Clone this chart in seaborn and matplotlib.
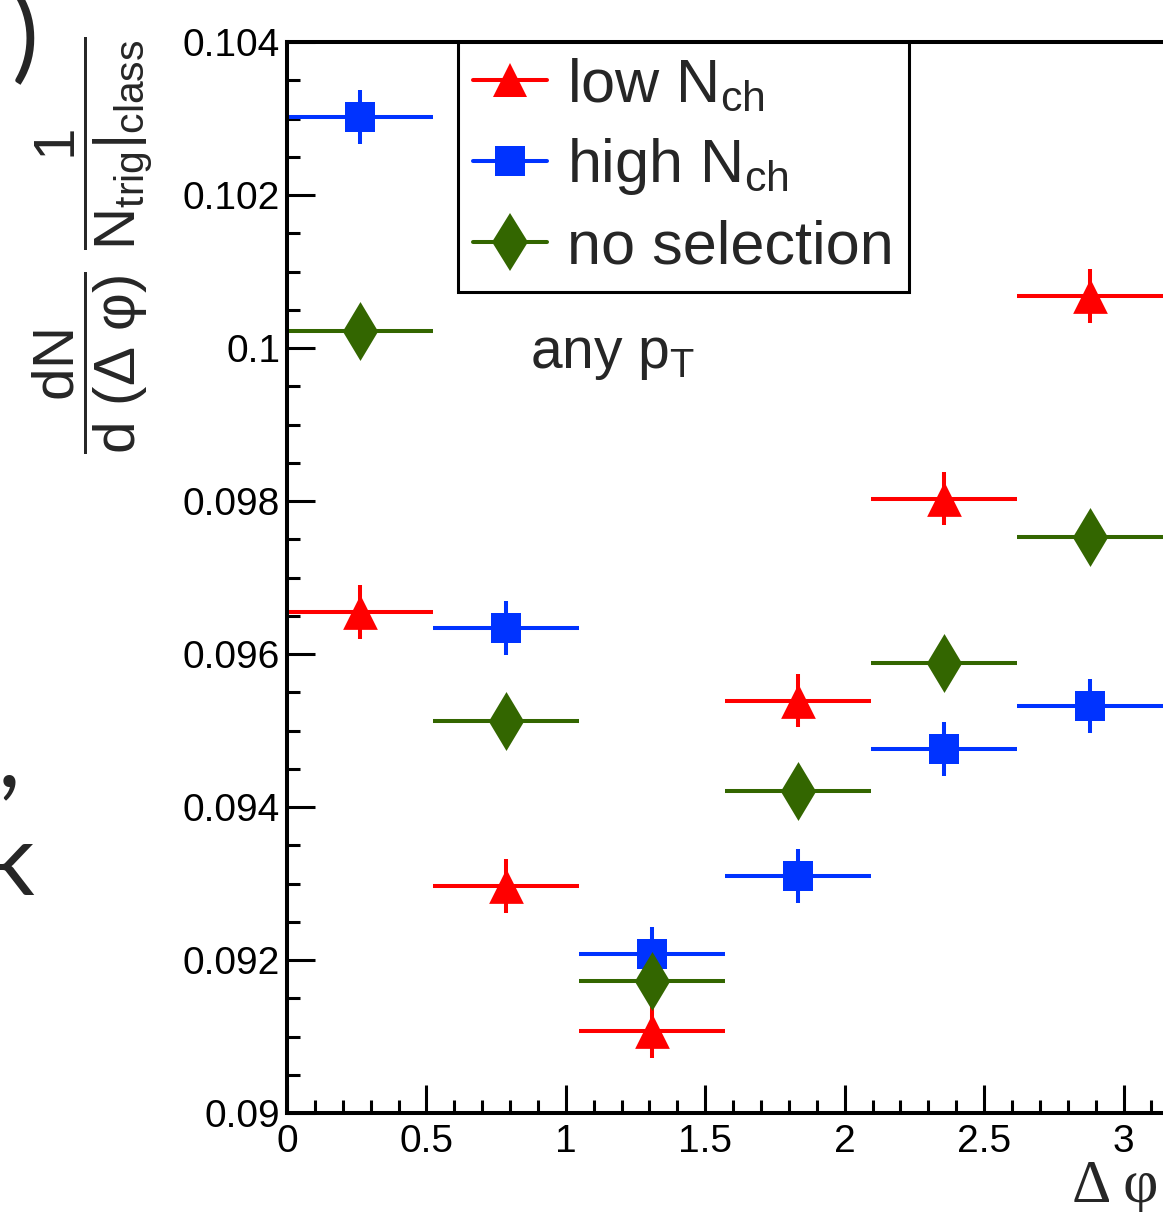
import matplotlib
matplotlib.use("Agg")
import numpy as np
import pandas as pd
import seaborn as sns
import matplotlib.pyplot as plt
from matplotlib.ticker import MultipleLocator, FuncFormatter
from matplotlib.lines import Line2D

# ---------------- data ----------------
dphi_centers = [0.262, 0.785, 1.309, 1.833, 2.356, 2.880]
dphi_halfwidth = [0.262, 0.262, 0.262, 0.262, 0.262, 0.262]

low_nch = [0.09655, 0.09297, 0.09107, 0.09539, 0.09803, 0.10068]
low_nch_err = [0.00035, 0.00035, 0.00035, 0.00035, 0.00035, 0.00035]

high_nch = [0.10302, 0.09634, 0.09208, 0.09310, 0.09476, 0.09532]
high_nch_err = [0.00035, 0.00035, 0.00035, 0.00035, 0.00035, 0.00035]

no_sel = [0.10022, 0.09512, 0.09173, 0.09421, 0.09588, 0.09753]
no_sel_err = [0.00015, 0.00015, 0.00015, 0.00015, 0.00015, 0.00015]

series_names = ["low", "high", "nosel"]
legend_labels = [r"low N$_{\mathrm{ch}}$", r"high N$_{\mathrm{ch}}$", "no selection"]

y_ticks_major = [0.09, 0.092, 0.094, 0.096, 0.098, 0.1, 0.102, 0.104]
x_ticks_major = [0, 0.5, 1, 1.5, 2, 2.5, 3]

frames = []
for name, vals, errs in [("low", low_nch, low_nch_err),
                         ("high", high_nch, high_nch_err),
                         ("nosel", no_sel, no_sel_err)]:
    frames.append(pd.DataFrame({"dphi": dphi_centers, "xerr": dphi_halfwidth,
                                "value": vals, "err": errs, "series": name}))
df = pd.concat(frames, ignore_index=True)

# ---------------- style ----------------
sns.set_theme(style="white")
plt.rcParams["font.family"] = ["Liberation Sans", "DejaVu Sans"]
plt.rcParams["mathtext.fontset"] = "custom"
plt.rcParams["mathtext.rm"] = "Liberation Sans"
plt.rcParams["mathtext.it"] = "Liberation Sans"
plt.rcParams["mathtext.sf"] = "Liberation Sans"
plt.rcParams["mathtext.bf"] = "Liberation Sans:bold"

colors = {"low": "#ff0000", "high": "#0033ff", "nosel": "#336600"}
markers = {"low": "^", "high": "s", "nosel": "d"}
msizes = {"low": 25, "high": 22, "nosel": 30}

W, H = 1163, 1212
fig = plt.figure(figsize=(W / 100, H / 100), dpi=100)
ax = fig.add_axes([287 / W, 99 / H, 876 / W, 1071 / H])

for name in series_names:
    sub = df[df["series"] == name]
    ax.errorbar(sub["dphi"], sub["value"], xerr=sub["xerr"], yerr=sub["err"],
                fmt="none", ecolor=colors[name], elinewidth=2.9, capsize=0, zorder=2)
    sns.scatterplot(data=sub, x="dphi", y="value", marker=markers[name],
                    s=msizes[name] ** 2, color=colors[name], edgecolor=colors[name],
                    linewidth=0, ax=ax, zorder=3, legend=False)

ax.set_xlim(0, np.pi)
ax.set_ylim(0.09, 0.104)
ax.set_xticks(x_ticks_major)
ax.set_yticks(y_ticks_major)
ax.xaxis.set_minor_locator(MultipleLocator(0.1))
ax.yaxis.set_minor_locator(MultipleLocator(0.0005))
fmt = FuncFormatter(lambda v, p: "%g" % round(v, 6))
ax.xaxis.set_major_formatter(fmt)
ax.yaxis.set_major_formatter(fmt)

ax.tick_params(axis="both", which="both", bottom=True, left=True, top=False, right=False)
ax.tick_params(axis="both", which="major", direction="in", length=20, width=2.2,
               labelsize=28, color="black", labelcolor="black")
ax.tick_params(axis="both", which="minor", direction="in", length=9.5, width=2.2,
               color="black")
ax.tick_params(axis="y", which="major", pad=5)
ax.tick_params(axis="x", which="major", pad=8)

for s in ["left", "bottom", "top"]:
    ax.spines[s].set_linewidth(2.9)
    ax.spines[s].set_color("black")
ax.spines["right"].set_visible(False)

ax.set_xlabel("Δ φ", family=["Liberation Serif", "DejaVu Serif"], fontsize=44,
              ha="left", va="baseline")
ax.xaxis.set_label_coords((1072 - 287) / 876, (1113 - 1202) / 1071)

ylab = (r"$\dfrac{\mathrm{dN}}{\mathrm{d\ (\Delta\ \varphi)}}\ "
        r"\dfrac{1}{\mathrm{N}_{\mathrm{trig}}|_{\mathrm{class}}}$")
ax.set_ylabel(ylab, fontsize=42, rotation=90, ha="center", va="center")
ax.yaxis.set_label_coords((92 - 287) / 876, (1113 - 245) / 1071)

ax.text((530 - 287) / 876, (1113 - 368) / 1071, r"any p$_{\mathrm{T}}$",
        transform=ax.transAxes, fontsize=41, va="baseline", ha="left")

handles = [Line2D([0], [0], color=colors[n], marker=markers[n],
                  markersize=msizes[n], lw=2.9, markeredgewidth=0)
           for n in series_names]
leg = ax.legend(handles, legend_labels, loc="upper left",
                bbox_to_anchor=((458 - 287) / 876, 1.0), fontsize=44,
                frameon=True, fancybox=False, edgecolor="black", framealpha=1,
                borderpad=0.25, handlelength=1.2, handletextpad=0.33,
                labelspacing=0.36, borderaxespad=0)
leg.get_frame().set_linewidth(2.2)

# stray text fragments from the surrounding page
stray_font = ["Lato", "DejaVu Sans"]
fig.text(12 / W, (H - 70) / H, ")", fontsize=72, family=stray_font, va="baseline")
fig.text(-2 / W, (H - 786) / H, ",", fontsize=72, family=stray_font, va="baseline")
fig.text(-16 / W, (H - 895) / H, "k", fontsize=72, family=stray_font, va="baseline")

fig.savefig("out.png", dpi=100)
